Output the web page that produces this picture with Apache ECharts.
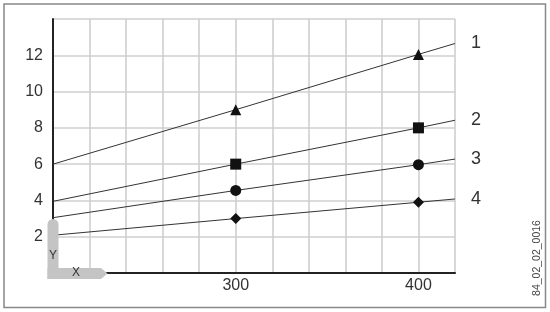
<!DOCTYPE html>
<html>
<head>
<meta charset="utf-8">
<script src="https://cdn.jsdelivr.net/npm/echarts@6/dist/echarts.min.js"></script>
<style>
html,body{margin:0;padding:0;background:#fff;}
#chart{width:550px;height:312px;}
</style>
</head>
<body>
<div id="chart"></div>
<script>
const xValues = [200, 300, 400, 420];
const series1 = [6.0, 9.0, 12.05, 12.65];
const series2 = [3.95, 6.0, 8.0, 8.42];
const series3 = [3.05, 4.55, 5.97, 6.28];
const series4 = [2.08, 3.0, 3.9, 4.08];
const seriesNames = ['1', '2', '3', '4'];
const xTickLabels = [300, 400];
const yTickLabels = [2, 4, 6, 8, 10, 12];
const imageCode = '84_02_02_0016';

const FONT = 'Liberation Sans, Arial, sans-serif';
const chart = echarts.init(document.getElementById('chart'), null, {renderer: 'canvas'});

function mk(name, vals, symbol) {
  return {
    type: 'line',
    name: name,
    data: xValues.map((x, i) => [x, vals[i]]),
    symbol: symbol,
    symbolSize: (v, p) => (p.dataIndex === 1 || p.dataIndex === 2) ? 11 : 0,
    showAllSymbol: true,
    lineStyle: {color: '#333', width: 1},
    itemStyle: {color: '#111'},
    emphasis: {disabled: true},
    endLabel: {
      show: true,
      formatter: name,
      distance: 16,
      fontSize: 18,
      color: '#333',
      fontFamily: FONT
    },
    z: 3
  };
}

chart.setOption({
  animation: false,
  grid: {left: 53, top: 19, right: 95, bottom: 39},
  xAxis: {
    type: 'value', min: 200, max: 420, interval: 20,
    axisLine: {show: true, lineStyle: {color: '#222', width: 2}},
    axisTick: {show: false},
    splitLine: {show: true, lineStyle: {color: '#cfcfcf', width: 1.6}},
    axisLabel: {
      margin: 5, fontSize: 16, color: '#333', fontFamily: FONT,
      formatter: v => xTickLabels.includes(v) ? String(v) : ''
    }
  },
  yAxis: {
    type: 'value', min: 0, max: 14, interval: 2,
    axisLine: {show: true, lineStyle: {color: '#222', width: 2}},
    axisTick: {show: false},
    splitLine: {show: true, lineStyle: {color: '#cfcfcf', width: 1.6}},
    axisLabel: {
      margin: 10, fontSize: 16, color: '#333', fontFamily: FONT,
      formatter: v => yTickLabels.includes(v) ? String(v) : ''
    }
  },
  series: [
    mk(seriesNames[0], series1, 'triangle'),
    mk(seriesNames[1], series2, 'rect'),
    mk(seriesNames[2], series3, 'circle'),
    mk(seriesNames[3], series4, 'diamond')
  ],
  graphic: [
    {type: 'rect', shape: {x: 4, y: 4, width: 541.5, height: 303.5},
     style: {fill: 'none', stroke: '#888', lineWidth: 1.5}, z: 100, silent: true},
    {type: 'rect', shape: {x: 47.5, y: 219, width: 11, height: 60, r: [5.5, 5.5, 0, 0]},
     style: {fill: '#c4c4c4'}, z: 100, silent: true},
    {type: 'polygon', shape: {points: [[47.5, 268], [101, 268], [107.5, 273.5], [101, 279], [47.5, 279]]},
     style: {fill: '#c4c4c4'}, z: 100, silent: true},
    {type: 'text', x: 53, y: 256, style: {text: 'Y', fill: '#333', font: '12px ' + FONT, textAlign: 'center', textVerticalAlign: 'middle'}, z: 101, silent: true},
    {type: 'text', x: 76, y: 273, style: {text: 'X', fill: '#333', font: '12px ' + FONT, textAlign: 'center', textVerticalAlign: 'middle'}, z: 101, silent: true},
    {type: 'text', x: 537, y: 258, rotation: Math.PI / 2,
     style: {text: imageCode, font: '10.5px ' + FONT, fill: '#444', textAlign: 'center', textVerticalAlign: 'middle'}, z: 101, silent: true}
  ]
});
</script>
</body>
</html>
